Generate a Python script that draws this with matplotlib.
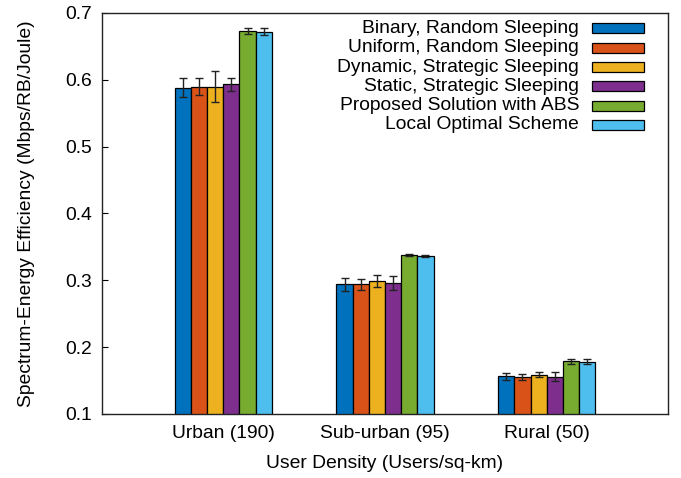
import numpy as np
import matplotlib
matplotlib.use('Agg')
import matplotlib.pyplot as plt
from matplotlib.patches import Rectangle

plt.rcParams['font.family'] = ['Liberation Sans', 'DejaVu Sans']

# datos
grupos = ['Urban (190)', 'Sub-urban (95)', 'Rural (50)']
esquemas = ['Binary, Random Sleeping', 'Uniform, Random Sleeping',
            'Dynamic, Strategic Sleeping', 'Static, Strategic Sleeping',
            'Proposed Solution with ABS', 'Local Optimal Scheme']
colores = ['#0072BD', '#D95319', '#EDB120', '#7E2F8E', '#77AC30', '#4DBEEE']

binary = [0.588, 0.294, 0.1564]
uniform = [0.590, 0.294, 0.1554]
dynamic = [0.590, 0.2986, 0.1588]
static = [0.5933, 0.296, 0.1558]
proposed = [0.673, 0.3375, 0.1789]
local_opt = [0.672, 0.3364, 0.1783]

err_binary = [0.014, 0.0095, 0.005]
err_uniform = [0.0125, 0.008, 0.005]
err_dynamic = [0.023, 0.009, 0.004]
err_static = [0.0095, 0.011, 0.007]
err_proposed = [0.005, 0.0015, 0.004]
err_local = [0.005, 0.0015, 0.004]

valores = [binary, uniform, dynamic, static, proposed, local_opt]
errores = [err_binary, err_uniform, err_dynamic, err_static, err_proposed, err_local]

fs = 13.9

fig = plt.figure(figsize=(6.81, 4.78), dpi=100)
ax = fig.add_axes([102 / 681, 64 / 478, 566 / 681, 401 / 478])

x = np.arange(1, len(grupos) + 1)
ancho = 0.1
for i in range(len(esquemas)):
    pos = x + (i - 2.5) * ancho
    ax.bar(pos, valores[i], ancho, bottom=0, color=colores[i],
           edgecolor='black', linewidth=0.9)
    ax.errorbar(pos, valores[i], yerr=errores[i], fmt='none', ecolor='#222222',
                elinewidth=1.0, capsize=3, capthick=1.0)

ax.set_xlim(0.25, 3.75)
ax.set_ylim(0.1, 0.7)
ax.set_yticks([0.1, 0.2, 0.3, 0.4, 0.5, 0.6, 0.7])
ax.set_xticks(x)
ax.set_xticklabels(grupos)
ax.tick_params(axis='y', direction='in', length=4, labelsize=fs, pad=7)
ax.tick_params(axis='x', length=0, labelsize=fs, pad=8)
for s in ax.spines.values():
    s.set_linewidth(1.0)
    s.set_color('#222222')

ax.set_xlabel('User Density (Users/sq-km)', fontsize=fs, labelpad=9)
ax.set_ylabel('Spectrum-Energy Efficiency (Mbps/RB/Joule)', fontsize=fs, labelpad=22)

# leyenda manual
filas = [0.962, 0.913, 0.865, 0.817, 0.769, 0.721]
for i in range(len(esquemas)):
    ax.text(0.843, filas[i], esquemas[i], transform=ax.transAxes,
            ha='right', va='center', fontsize=fs)
    ax.add_patch(Rectangle((0.866, filas[i] - 0.0125), 0.092, 0.025,
                           transform=ax.transAxes, facecolor=colores[i],
                           edgecolor='black', linewidth=0.9))

fig.savefig('out.png', dpi=100)
